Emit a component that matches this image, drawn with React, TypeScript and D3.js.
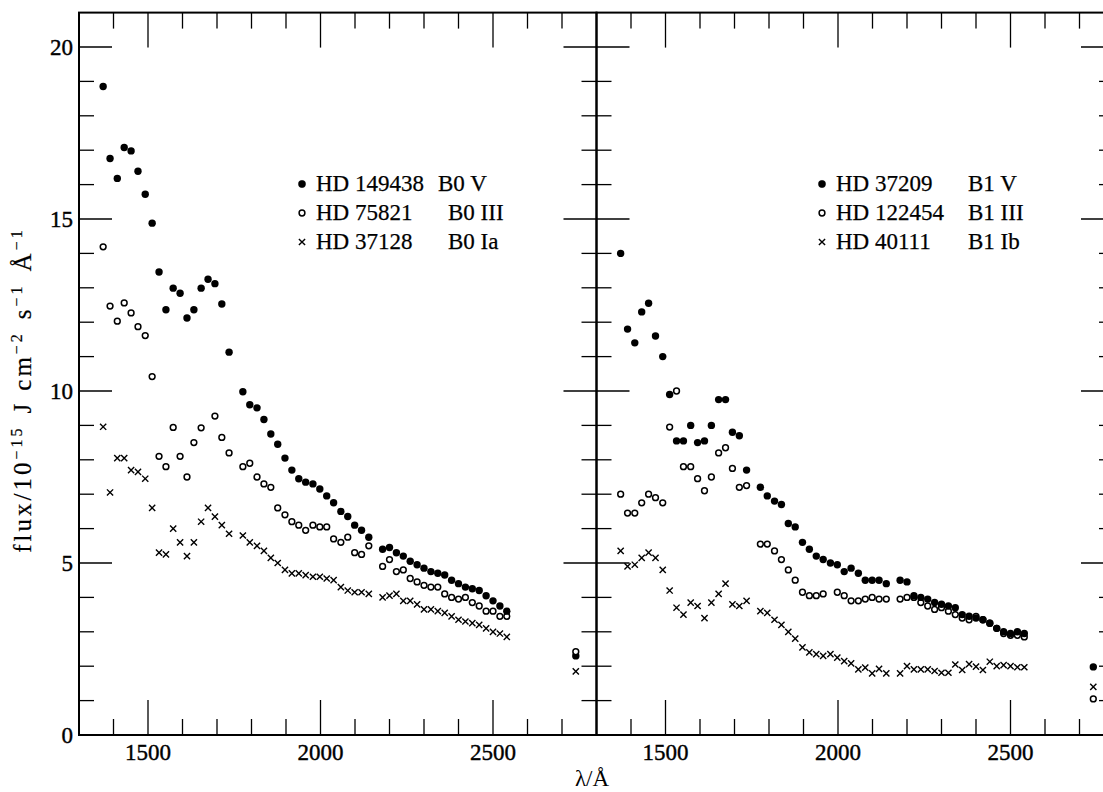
import * as d3 from 'd3'

// TD1-style spectrophotometry: short channel, long channel, plus one photometer band
const shortWl = [1370, 1390, 1411, 1431, 1451, 1471, 1492, 1512, 1532, 1552, 1573, 1593, 1613, 1633, 1654, 1674, 1694, 1714, 1735, 1755, 1775, 1795, 1816, 1836, 1856, 1876, 1897, 1917, 1937, 1957, 1978, 1998, 2018, 2038, 2059, 2079, 2099, 2119, 2140]
const longWl = [2180, 2200, 2220, 2240, 2260, 2280, 2300, 2320, 2340, 2360, 2380, 2400, 2420, 2440, 2460, 2480, 2500, 2520, 2540]
const wavelengths = [...shortWl, ...longWl]
const photometerWl = 2740

// left panel: B0 stars
const hd149438 = [18.85, 16.76, 16.18, 17.08, 16.98, 16.39, 15.72, 14.88, 13.46, 12.36, 12.99, 12.84, 12.12, 12.36, 12.99, 13.25, 13.12, 12.53, 11.13, null, 9.98, 9.6, 9.51, 9.17, 8.75, 8.45, 8.05, 7.7, 7.45, 7.35, 7.3, 7.15, 6.95, 6.75, 6.5, 6.35, 6.1, 5.95, 5.75,
  5.4, 5.45, 5.3, 5.2, 5.05, 4.95, 4.85, 4.75, 4.7, 4.65, 4.5, 4.4, 4.3, 4.25, 4.2, 4.05, 3.9, 3.75, 3.6]
const hd75821 = [14.19, 12.47, 12.03, 12.56, 12.27, 11.87, 11.61, 10.42, 8.1, 7.8, 8.94, 8.1, 7.5, 8.5, 8.93, null, 9.27, 8.65, 8.2, null, 7.8, 7.9, 7.5, 7.3, 7.2, 6.6, 6.4, 6.2, 6.1, 5.95, 6.1, 6.05, 6.05, 5.7, 5.6, 5.75, 5.3, 5.25, 5.5,
  4.9, 5.1, 4.75, 4.8, 4.55, 4.45, 4.35, 4.3, 4.3, 4.1, 4.0, 3.95, 4.0, 3.85, 3.75, 3.6, 3.6, 3.45, 3.45]
const hd37128 = [8.96, 7.05, 8.05, 8.05, 7.7, 7.65, 7.45, 6.6, 5.3, 5.25, 6.0, 5.6, 5.2, 5.6, 6.2, 6.6, 6.35, 6.1, 5.85, null, 5.8, 5.6, 5.5, 5.35, 5.15, 5.0, 4.8, 4.7, 4.7, 4.65, 4.6, 4.6, 4.55, 4.5, 4.3, 4.2, 4.15, 4.15, 4.1,
  4.0, 4.05, 4.1, 3.9, 3.9, 3.8, 3.65, 3.65, 3.6, 3.55, 3.45, 3.35, 3.3, 3.25, 3.2, 3.1, 3.0, 2.95, 2.85]

// right panel: B1 stars
const hd37209 = [14.0, 11.8, 11.4, 12.3, 12.55, 11.6, 11.0, 9.9, 8.55, 8.55, 9.0, 8.5, 8.55, 9.0, 9.75, 9.75, 8.8, 8.7, 7.7, null, 7.2, 6.95, 6.8, 6.7, 6.15, 6.05, 5.6, 5.4, 5.2, 5.1, 5.0, 4.95, 4.75, 4.85, 4.7, 4.5, 4.5, 4.5, 4.4,
  4.5, 4.45, 4.05, 4.0, 3.95, 3.85, 3.8, 3.75, 3.7, 3.5, 3.45, 3.4, 3.35, 3.25, 3.1, 3.0, 2.95, 3.0, 2.95]
const hd122454 = [7.0, 6.45, 6.45, 6.75, 7.0, 6.9, 6.75, 8.95, 10.0, 7.8, 7.8, 7.45, 7.1, 7.5, 8.2, 8.35, 7.75, 7.2, 7.25, null, 5.55, 5.55, 5.35, 5.1, 4.8, 4.5, 4.15, 4.05, 4.05, 4.1, null, 4.15, 4.05, 3.9, 3.9, 3.95, 4.0, 3.95, 3.95,
  3.95, 4.0, 4.0, 3.85, 3.75, 3.65, 3.7, 3.6, 3.5, 3.4, 3.35, 3.45, 3.35, 3.25, 3.1, 2.95, 2.9, 2.9, 2.85]
const hd40111 = [5.35, 4.9, 4.95, 5.15, 5.3, 5.15, 4.8, 4.2, 3.7, 3.5, 3.85, 3.75, 3.4, 3.85, 4.1, 4.4, 3.8, 3.75, 3.9, null, 3.6, 3.55, 3.35, 3.2, 3.0, 2.8, 2.55, 2.4, 2.35, 2.3, 2.35, 2.25, 2.15, 2.08, 1.91, 1.96, 1.79, 1.92, 1.79,
  1.79, 2.0, 1.91, 1.91, 1.91, 1.86, 1.81, 1.81, 2.05, 1.89, 2.06, 1.99, 1.89, 2.13, 2.0, 2.03, 2.0, 1.97, 1.97]

// photometer band values: [filled, open, cross]
const photLeft = [2.3, 2.42, 1.85]
const photRight = [1.98, 1.05, 1.4]

const legendLeft = [
  { star: 'HD 149438', type: 'B0 V' },
  { star: 'HD 75821', type: 'B0 III' },
  { star: 'HD 37128', type: 'B0 Ia' },
]
const legendRight = [
  { star: 'HD 37209', type: 'B1 V' },
  { star: 'HD 122454', type: 'B1 III' },
  { star: 'HD 40111', type: 'B1 Ib' },
]

const xLabels = [1500, 2000, 2500]
const yLabels = [0, 5, 10, 15, 20]

const FONT = '"Liberation Serif", "DejaVu Serif", serif'
const y = d3.scaleLinear().domain([0, 21]).range([735, 12.6])

function Marker({ kind, cx, cy }: { kind: string; cx: number; cy: number }) {
  if (kind === 'filled') return <circle cx={cx} cy={cy} r={3.7} fill="#000" />
  if (kind === 'open') return <circle cx={cx} cy={cy} r={2.9} fill="#fff" stroke="#000" strokeWidth={1.5} />
  const s = 3.1
  return (
    <path
      d={`M${cx - s},${cy - s}L${cx + s},${cy + s}M${cx - s},${cy + s}L${cx + s},${cy - s}`}
      stroke="#000"
      strokeWidth={1.4}
    />
  )
}

function Panel({ x, series, phot, legend, legendX, typeX }: any) {
  const [x0, x1] = x.range()
  const [yb, yt] = y.range()
  const xt = x.ticks(15).filter((d: number) => d > 1300 && d < 2800)
  const yt2 = y.ticks(21).filter((d: number) => d > 0 && d < 21)
  const kinds = ['cross', 'open', 'filled']
  const order = [2, 1, 0]

  return (
    <g>
      <rect x={x0} y={yt} width={x1 - x0} height={yb - yt} fill="none" stroke="#000" strokeWidth={2} />
      {xt.map((d: number) => {
        const len = d % 500 === 0 ? 35 : 16
        return (
          <g key={'x' + d} stroke="#000" strokeWidth={1.3}>
            <line x1={x(d)} x2={x(d)} y1={yb} y2={yb - len} />
            <line x1={x(d)} x2={x(d)} y1={yt} y2={yt + len} />
          </g>
        )
      })}
      {yt2.map((d: number) => {
        const len = d % 5 === 0 ? 33 : 15
        return (
          <g key={'y' + d} stroke="#000" strokeWidth={1.3}>
            <line x1={x0} x2={x0 + len} y1={y(d)} y2={y(d)} />
            <line x1={x1} x2={x1 - len} y1={y(d)} y2={y(d)} />
          </g>
        )
      })}
      {xLabels.map((d) => (
        <text key={'xl' + d} x={x(d)} y={760} textAnchor="middle" fontSize={23} fontFamily={FONT} stroke="#000" strokeWidth={0.4}>
          {d}
        </text>
      ))}
      {order.map((si) =>
        series[si].map((v: number | null, i: number) =>
          v == null ? null : <Marker key={si + '-' + i} kind={kinds[2 - si]} cx={x(wavelengths[i])} cy={y(v)} />
        )
      )}
      <Marker kind="cross" cx={x(photometerWl)} cy={y(phot[2])} />
      <Marker kind="filled" cx={x(photometerWl)} cy={y(phot[0])} />
      <Marker kind="open" cx={x(photometerWl)} cy={y(phot[1])} />
      {legend.map((l: any, i: number) => {
        const by = 191 + i * 29
        const kind = ['filled', 'open', 'cross'][i]
        return (
          <g key={l.star} fontFamily={FONT} fontSize={23} stroke="#000" strokeWidth={0.25}>
            <Marker kind={kind} cx={legendX} cy={by - 7} />
            <text x={legendX + 14} y={by}>{l.star}</text>
            <text x={typeX[i]} y={by}>{l.type}</text>
          </g>
        )
      })}
    </g>
  )
}

export default function App() {
  const xL = d3.scaleLinear().domain([1300, 2800]).range([79, 596.5])
  const xR = d3.scaleLinear().domain([1300, 2800]).range([596.5, 1114])

  return (
    <svg width={1103} height={792} style={{ position: 'absolute', left: 0, top: 0, background: '#fff' }}>
      <rect width={1103} height={792} fill="#fff" />
      <Panel x={xL} series={[hd149438, hd75821, hd37128]} phot={photLeft} legend={legendLeft} legendX={302} typeX={[438, 448, 448]} />
      <Panel x={xR} series={[hd37209, hd122454, hd40111]} phot={photRight} legend={legendRight} legendX={822} typeX={[968, 968, 968]} />
      {yLabels.map((d) => (
        <text key={'yl' + d} x={73} y={y(d) + 8} textAnchor="end" fontSize={23} fontFamily={FONT} stroke="#000" strokeWidth={0.4}>
          {d}
        </text>
      ))}
      <text x={592} y={786} textAnchor="middle" fontSize={23} fontFamily={FONT}>
        λ/Å
      </text>
      <text transform="translate(31,390) rotate(-90)" textAnchor="middle" fontSize={25} fontFamily={FONT} letterSpacing={3} stroke="#000" strokeWidth={0.2}>
        flux/10
        <tspan dy={-9} fontSize={16}>−15</tspan>
        <tspan dy={9} dx={12}>J</tspan>
        <tspan dx={10}>cm</tspan>
        <tspan dy={-9} fontSize={16}>−2</tspan>
        <tspan dy={9} dx={12}>s</tspan>
        <tspan dy={-9} fontSize={16}>−1</tspan>
        <tspan dy={9} dx={12}>Å</tspan>
        <tspan dy={-9} fontSize={16}>−1</tspan>
      </text>
    </svg>
  )
}
